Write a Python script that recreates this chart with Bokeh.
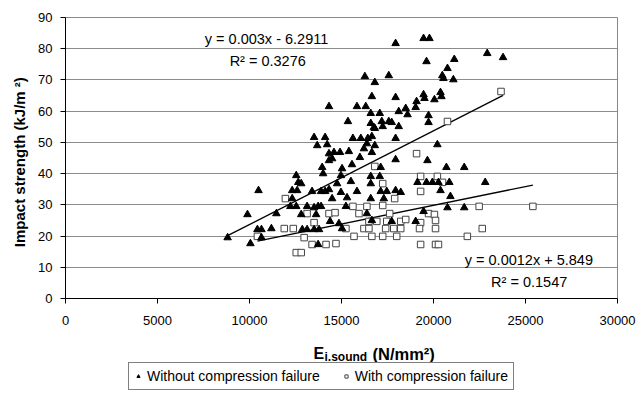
from bokeh.plotting import figure
from bokeh.layouts import column
from bokeh.models import Label, Legend, LegendItem, ColumnDataSource, FixedTicker, Range1d
from bokeh.embed import file_html
from bokeh.resources import INLINE

FONT = "Liberation Sans"

# ---------------- data ----------------
x_ticks = [0, 5000, 10000, 15000, 20000, 25000, 30000]
y_ticks = [0, 10, 20, 30, 40, 50, 60, 70, 80, 90]

series_names = ["Without compression failure", "With compression failure"]

tri_x = [19460, 19780, 17940, 22920, 23780, 19620, 21130, 20760, 20480, 20540,
         21080, 17570, 16270, 16810, 16650, 17940, 19460, 19510, 20380, 20430,
         20050, 19080, 19030, 18490, 18110, 18590, 19730, 19730, 18110, 17080,
         17190, 17570, 17730, 17240, 16760, 14320, 15840, 16320, 16590, 15350,
         16590, 16810, 13510, 14110, 15620, 16050, 16430, 16650, 17940, 13680,
         14220, 16380, 16810, 16220, 20210, 14320, 14590, 14920, 15400, 16650,
         14320, 14490, 16000, 17940, 19670, 15570, 15030, 13950, 17130, 20700,
         21670, 12540, 14000, 14970, 16590, 17080, 12650, 12810, 14760, 15510,
         16590, 19130, 19620, 19940, 20270, 20860, 22810, 10490, 12320, 12590,
         13400, 13890, 14110, 14320, 14970, 15840, 17130, 17460, 17940, 18220,
         20380, 12320, 14490, 15300, 16590, 17300, 20920, 12220, 12540, 13130,
         13510, 13730, 13890, 15240, 20760, 21670, 9890, 11460, 12810, 13620,
         16380, 19460, 16650, 17730, 19030, 14380, 14860, 10430, 10650, 11190,
         12870, 13130, 13510, 13780, 15030, 8810, 10650, 10050, 13730]
tri_y = [83.3, 83.3, 81.7, 78.5, 77.2, 75.9, 76.6, 73.7, 71.4, 70.5,
         70.1, 71.4, 71.1, 69.2, 64.7, 64.4, 65.3, 64.1, 66.0, 64.7,
         63.7, 63.1, 61.2, 60.9, 59.9, 58.9, 58.6, 56.4, 55.1, 59.3,
         56.7, 56.7, 56.4, 55.1, 54.8, 61.5, 61.5, 61.5, 59.3, 56.7,
         56.1, 54.5, 51.6, 51.6, 51.3, 51.3, 51.3, 51.9, 51.3, 49.0,
         49.3, 49.6, 49.0, 48.0, 49.3, 46.4, 46.8, 46.8, 47.1, 46.8,
         44.2, 44.8, 45.2, 44.5, 44.2, 42.9, 41.6, 42.0, 42.0, 42.0,
         42.0, 39.4, 40.0, 39.4, 39.1, 39.1, 37.2, 36.8, 36.8, 37.5,
         36.8, 37.2, 37.2, 37.2, 37.2, 37.2, 37.2, 34.6, 34.6, 34.6,
         34.3, 34.3, 34.3, 34.9, 34.0, 34.3, 34.3, 34.3, 34.6, 34.0,
         34.6, 32.0, 32.0, 32.3, 32.0, 32.0, 32.7, 29.5, 29.5, 29.5,
         29.1, 29.5, 29.5, 29.5, 29.1, 29.1, 26.9, 27.2, 26.9, 26.9,
         27.2, 27.9, 25.0, 24.7, 24.7, 24.7, 24.0, 22.1, 22.1, 22.4,
         22.1, 22.1, 22.1, 22.1, 22.4, 19.5, 19.5, 17.6, 17.3]

sq_x = [23670, 20760, 19080, 16810, 19300, 20210, 17240, 20490, 19300, 11950,
        17890, 15620, 16380, 17240, 22480, 25400, 13130, 14320, 14650, 15950,
        17620, 19730, 20050, 13510, 16490, 16920, 17460, 18220, 18490, 19300,
        20110, 11890, 12380, 15240, 16220, 16490, 17400, 17840, 18220, 19240,
        20110, 22650, 10430, 12970, 15680, 16650, 17240, 18000, 21840, 13400,
        14160, 14700, 19300, 20110, 20270, 12540, 12810]
sq_y = [66.3, 56.7, 46.4, 42.3, 39.1, 39.1, 36.8, 37.2, 34.3, 32.0,
        32.0, 29.5, 29.5, 29.8, 29.5, 29.5, 27.2, 27.2, 27.5, 27.2,
        27.2, 27.2, 26.9, 24.3, 24.7, 24.7, 24.7, 24.7, 25.3, 24.3,
        25.0, 22.4, 22.4, 22.4, 22.4, 22.4, 22.4, 22.4, 22.4, 22.4,
        22.4, 22.4, 19.9, 19.5, 19.9, 19.9, 19.9, 19.9, 19.9, 17.3,
        17.3, 17.6, 17.3, 17.3, 17.3, 14.7, 14.7]

# trend line coefficients (as printed on the chart): slope, intercept, R^2
trend_without = [0.003, -6.2911, 0.3276]
trend_with = [0.0012, 5.849, 0.1547]

# ---------------- main figure ----------------
p = figure(width=637, height=340, x_range=(0, 30000), y_range=(0, 90),
           output_backend="svg", toolbar_location=None,
           min_border_left=65, min_border_right=20, min_border_top=17,
           min_border_bottom=42)
p.background_fill_color = "white"
p.border_fill_color = "white"
p.outline_line_color = "#888888"

p.xaxis.ticker = FixedTicker(ticks=x_ticks)
p.yaxis.ticker = FixedTicker(ticks=y_ticks)
p.xgrid.visible = False
p.ygrid.grid_line_color = "#8c8c8c"
p.ygrid.grid_line_width = 1

for ax in (p.xaxis[0], p.yaxis[0]):
    ax.axis_line_color = "black"
    ax.major_tick_line_color = "black"
    ax.major_tick_out = 5
    ax.major_tick_in = 0
    ax.minor_tick_line_color = None
    ax.major_label_text_font = FONT
    ax.major_label_text_font_size = "13px"
    ax.major_label_text_color = "black"
p.xaxis.major_label_standoff = 12
p.yaxis.major_label_standoff = 8

p.yaxis.axis_label = "Impact strength (kJ/m   ²)"
p.yaxis.axis_label_text_font = FONT
p.yaxis.axis_label_text_font_style = "bold"
p.yaxis.axis_label_text_font_size = "15px"
p.yaxis.axis_label_text_color = "black"
p.yaxis.axis_label_standoff = 7

# trend lines
for xs, coef in ((tri_x, trend_without), (sq_x, trend_with)):
    x0, x1 = min(xs), max(xs)
    p.line([x0, x1], [coef[0] * x0 + coef[1], coef[0] * x1 + coef[1]],
           line_color="black", line_width=1.3)

# points
p.scatter(sq_x, sq_y, marker="square", size=6.5, fill_color="white",
          line_color="#444444", line_width=1)
p.scatter(tri_x, tri_y, marker="triangle", size=7.5, fill_color="black",
          line_color="black")

# equation labels
def eq_label(coef):
    sign = "-" if coef[1] < 0 else "+"
    return "y = %gx %s %g" % (coef[0], sign, abs(coef[1]))

lab_kw = dict(text_font=FONT, text_font_size="14.5px", text_color="black",
              text_baseline="middle")
p.add_layout(Label(x=7570, y=83.0, text=eq_label(trend_without), **lab_kw))
p.add_layout(Label(x=8920, y=76.2, text="R² = %g" % trend_without[2], **lab_kw))
p.add_layout(Label(x=21700, y=12.2, text=eq_label(trend_with), **lab_kw))
p.add_layout(Label(x=23130, y=5.2, text="R² = %g" % trend_with[2], **lab_kw))

# ---------------- bottom strip: x-axis title and legend ----------------
b = figure(width=637, height=59, x_range=p.x_range, y_range=Range1d(59, 0),
           x_axis_type=None, y_axis_type=None, output_backend="svg",
           toolbar_location=None, min_border=0, min_border_left=65,
           min_border_right=20, min_border_top=0, min_border_bottom=0)
b.outline_line_color = None
b.grid.visible = False
b.background_fill_color = "white"
b.border_fill_color = "white"

PX = 30000 / 552.0   # data units per pixel along x

tkw = dict(text_font=FONT, text_font_style="bold", text_color="black",
           text_baseline="middle")
b.add_layout(Label(x=(313 - 65) * PX, y=13, text="E", text_font_size="16px", **tkw))
b.add_layout(Label(x=(324 - 65) * PX, y=16.5, text="i.sound", text_font_size="12px", **tkw))
b.add_layout(Label(x=(372 - 65) * PX, y=13, text="(N/mm²)", text_font_size="16.5px", **tkw))

src_off = ColumnDataSource(data=dict(x=[-1e9], y=[-1e9]))
r_leg_tri = b.scatter("x", "y", source=src_off, marker="triangle", size=6,
                      fill_color="black", line_color="black")
r_leg_sq = b.scatter("x", "y", source=src_off, marker="square", size=5.5,
                     fill_color="white", line_color="#444444")
legend = Legend(items=[LegendItem(label=series_names[0], renderers=[r_leg_tri]),
                       LegendItem(label=series_names[1], renderers=[r_leg_sq])],
                orientation="horizontal", location=(128 - 65, 9),
                label_text_font=FONT, label_text_font_size="14px",
                label_text_color="black", glyph_width=8, glyph_height=10,
                label_standoff=5, spacing=22, padding=5, margin=0,
                border_line_color="black", border_line_width=1,
                background_fill_color="white", background_fill_alpha=1,
                label_height=13)
b.add_layout(legend, "center")

layout = column(p, b, spacing=0)
open("out.html", "w").write(file_html(layout, INLINE))
